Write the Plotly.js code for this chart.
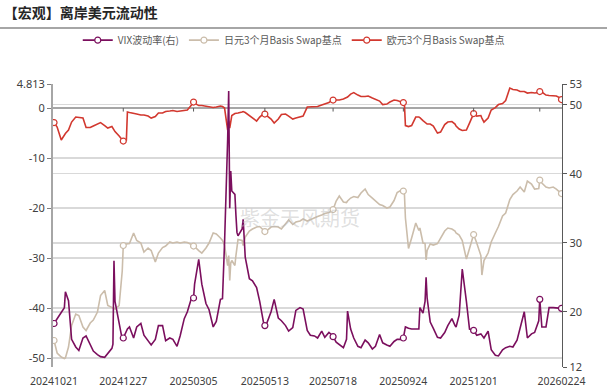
<!DOCTYPE html>
<html><head><meta charset="utf-8">
<script src="https://cdn.plot.ly/plotly-3.0.1.min.js"></script>
<style>html,body{margin:0;padding:0;background:#fff;} #chart{width:607px;height:387px;}</style>
</head><body><div id="chart"></div>
<script>
const dates = [
'2024-10-21','2024-10-24','2024-10-28','2024-10-31','2024-11-01','2024-11-04','2024-11-07','2024-11-11','2024-11-14','2024-11-18',
'2024-11-21','2024-11-25','2024-11-28','2024-12-02','2024-12-05','2024-12-09','2024-12-12','2024-12-16','2024-12-17','2024-12-18',
'2024-12-19','2024-12-23','2024-12-26','2024-12-27','2024-12-30','2024-12-31','2025-01-02','2025-01-06','2025-01-09','2025-01-13',
'2025-01-16','2025-01-20','2025-01-23','2025-01-27','2025-01-30','2025-02-03','2025-02-06','2025-02-10','2025-02-13','2025-02-17',
'2025-02-20','2025-02-24','2025-02-27','2025-03-03','2025-03-05','2025-03-06','2025-03-10','2025-03-13','2025-03-17','2025-03-20',
'2025-03-24','2025-03-27','2025-03-31','2025-04-02','2025-04-03','2025-04-04','2025-04-07','2025-04-08','2025-04-09','2025-04-10',
'2025-04-11','2025-04-14','2025-04-15','2025-04-16','2025-04-17','2025-04-21','2025-04-22','2025-04-24','2025-04-28','2025-05-01',
'2025-05-05','2025-05-08','2025-05-12','2025-05-13','2025-05-15','2025-05-19','2025-05-22','2025-05-26','2025-05-29','2025-06-02',
'2025-06-05','2025-06-09','2025-06-12','2025-06-16','2025-06-19','2025-06-23','2025-06-26','2025-06-30','2025-07-03','2025-07-07',
'2025-07-10','2025-07-14','2025-07-17','2025-07-18','2025-07-21','2025-07-24','2025-07-28','2025-07-31','2025-08-01','2025-08-04',
'2025-08-07','2025-08-11','2025-08-14','2025-08-18','2025-08-21','2025-08-25','2025-08-28','2025-09-01','2025-09-04','2025-09-08',
'2025-09-11','2025-09-15','2025-09-18','2025-09-22','2025-09-24','2025-09-25','2025-09-26','2025-09-29','2025-10-02','2025-10-06',
'2025-10-09','2025-10-10','2025-10-13','2025-10-15','2025-10-16','2025-10-17','2025-10-20','2025-10-23','2025-10-27','2025-10-30',
'2025-11-03','2025-11-06','2025-11-10','2025-11-13','2025-11-14','2025-11-17','2025-11-20','2025-11-24','2025-11-27','2025-12-01',
'2025-12-04','2025-12-08','2025-12-09','2025-12-11','2025-12-15','2025-12-18','2025-12-22','2025-12-25','2025-12-29','2026-01-01',
'2026-01-05','2026-01-08','2026-01-12','2026-01-15','2026-01-19','2026-01-22','2026-01-26','2026-01-29','2026-02-02','2026-02-03',
'2026-02-05','2026-02-09','2026-02-12','2026-02-16','2026-02-19','2026-02-23','2026-02-24'];

const vix = [
18.3,19.0,19.8,20.6,22.9,21.6,16.0,14.9,14.4,16.2,
16.5,15.2,14.3,13.8,13.5,13.4,13.9,14.7,15.3,27.4,
21.5,18.5,16.0,16.2,17.3,17.5,17.8,16.2,17.8,18.3,
16.6,15.7,15.2,16.0,18.0,18.0,15.8,16.2,16.0,15.0,
16.5,19.0,20.0,22.0,22.0,24.0,27.6,24.0,21.2,20.3,
17.8,18.6,21.8,21.9,25.0,30.0,45.0,52.0,35.0,40.4,
37.5,37.0,34.0,31.5,31.0,32.0,33.4,27.9,24.8,24.5,
23.5,21.5,18.2,18.0,18.4,20.0,21.8,19.1,18.7,18.0,
17.2,17.7,20.2,20.6,20.4,17.3,16.6,16.5,16.2,17.2,
16.3,17.0,16.6,16.4,15.6,15.2,14.8,16.0,20.1,17.5,
16.2,15.0,14.8,15.9,15.5,14.6,15.0,16.7,15.5,15.2,
15.0,15.7,16.0,16.0,16.2,17.0,17.8,17.6,17.5,17.5,
17.5,20.6,19.8,21.5,25.0,22.0,18.5,17.6,16.3,16.2,
17.0,18.0,19.0,18.0,17.8,19.5,26.2,21.5,17.5,17.3,
16.6,16.8,16.6,16.2,17.2,14.5,13.7,13.6,14.5,14.8,
15.0,14.9,15.9,17.5,20.0,16.2,16.8,17.0,18.7,21.8,
17.8,17.8,20.6,20.6,20.6,20.5,20.5];

const jpyBasis = [
-46.5,-49.0,-49.8,-50.1,-50.0,-47.8,-43.5,-41.2,-41.5,-43.8,
-44.5,-43.0,-42.4,-40.8,-37.5,-36.5,-39.5,-39.8,-40.0,-40.1,
-40.2,-39.5,-32.6,-27.5,-27.2,-27.2,-27.1,-25.0,-26.5,-27.0,
-28.8,-28.0,-28.5,-30.8,-29.0,-27.9,-27.6,-26.8,-27.0,-26.8,
-27.0,-26.8,-26.9,-27.3,-27.6,-27.7,-28.5,-29.0,-28.0,-27.0,
-25.0,-25.2,-26.0,-26.5,-27.0,-27.5,-31.5,-29.5,-34.5,-31.0,
-30.5,-31.5,-29.5,-27.5,-26.3,-26.5,-27.5,-25.8,-24.6,-24.2,
-23.8,-23.7,-24.5,-24.7,-24.5,-23.8,-23.7,-23.8,-24.2,-23.2,
-22.4,-23.3,-22.8,-22.6,-22.2,-22.6,-22.3,-22.0,-21.7,-21.4,
-21.1,-20.9,-20.6,-20.3,-18.6,-17.6,-18.8,-18.9,-18.6,-18.0,
-17.7,-17.9,-17.0,-16.2,-17.3,-18.0,-18.5,-19.3,-19.5,-20.0,
-19.8,-18.5,-16.9,-16.4,-16.6,-17.0,-22.0,-28.1,-26.0,-23.0,
-24.5,-24.0,-27.0,-27.1,-30.4,-28.5,-27.2,-27.4,-27.1,-26.0,
-24.6,-24.0,-24.2,-24.6,-25.0,-25.4,-26.5,-30.2,-28.0,-25.3,
-27.0,-29.5,-33.4,-30.5,-29.0,-26.8,-25.0,-23.7,-21.6,-21.0,
-18.3,-17.3,-16.6,-15.8,-16.8,-14.6,-15.2,-16.2,-16.1,-14.4,
-15.0,-15.8,-16.0,-15.8,-16.2,-16.9,-17.1];

const eurBasis = [
-2.9,-3.8,-6.4,-5.3,-5.1,-4.4,-2.8,-1.8,-1.9,-2.0,
-3.9,-3.9,-3.6,-3.1,-2.9,-3.5,-4.0,-3.7,-4.0,-4.4,
-4.7,-5.6,-6.3,-6.6,-6.4,-0.8,-0.9,-1.0,-1.2,-1.4,
-1.4,-1.6,-2.0,-1.7,-1.0,-1.0,-0.7,-0.6,-0.5,-0.7,
-0.6,-0.5,-0.4,0.6,1.2,1.0,0.5,0.5,0.3,0.2,
0.1,0.2,0.4,0.3,0.2,0.0,-4.4,-2.5,-4.0,-3.0,
-1.5,-1.1,-1.1,-1.0,-1.0,-0.8,-0.7,-0.9,-1.5,-2.0,
-2.6,-1.8,-1.1,-1.2,-1.5,-2.2,-3.0,-2.2,-1.3,-1.2,
-1.6,-2.2,-2.0,-1.7,-1.6,0.2,0.2,0.2,0.3,0.6,
0.8,1.1,1.6,1.6,1.5,1.6,1.8,2.1,2.2,2.8,
3.1,2.6,2.3,2.3,2.4,2.0,1.8,1.4,0.7,0.8,
1.2,1.6,1.5,1.2,1.1,1.0,-3.5,-3.7,-3.5,-1.8,
-1.8,-1.9,-2.5,-2.8,-3.0,-3.2,-3.2,-3.6,-5.0,-4.8,
-3.3,-2.8,-2.7,-3.2,-3.6,-4.2,-4.5,-4.4,-3.0,-1.1,
-1.6,-1.5,-2.0,-2.8,-2.0,-0.4,0.1,0.7,0.9,1.5,
4.0,3.7,3.6,3.3,3.3,3.0,3.1,3.0,3.1,3.3,
3.2,2.6,2.5,2.5,2.4,2.0,1.7];

const tickDates = ['2024-10-21','2024-12-27','2025-03-05','2025-05-13','2025-07-18','2025-09-24','2025-12-01','2026-02-24'];
const markerDates = ['2024-10-21','2024-12-27','2025-03-05','2025-05-13','2025-07-18','2025-09-24','2025-12-01','2026-02-03','2026-02-24'];
const leftTicks = [4.813, 0, -10, -20, -30, -40, -50];
const rightTicks = [12, 20, 30, 40, 50, 53];
const seriesNames = ['VIX波动率(右)', '日元3个月Basis Swap基点', '欧元3个月Basis Swap基点'];
const chartTitle = '【宏观】离岸美元流动性';
const watermark = '紫金天风期货';

const colVix = '#7b0f5e', colJpy = '#cbbdab', colEur = '#d2382f';

function markerStyle(color){
  const on = dates.map(d => markerDates.includes(d));
  return {symbol:'circle', size:6,
    color: on.map(v => v ? '#ffffff' : 'rgba(0,0,0,0)'),
    line:{color: on.map(v => v ? color : 'rgba(0,0,0,0)'), width:1.2}};
}

const traces = [
  {name: seriesNames[0], x: dates, y: vix, yaxis:'y2', mode:'lines+markers',
   line:{color:colVix, width:1.6}, marker: markerStyle(colVix)},
  {name: seriesNames[1], x: dates, y: jpyBasis, yaxis:'y', mode:'lines+markers',
   line:{color:colJpy, width:1.6}, marker: markerStyle(colJpy)},
  {name: seriesNames[2], x: dates, y: eurBasis, yaxis:'y', mode:'lines+markers',
   line:{color:colEur, width:1.6}, marker: markerStyle(colEur)}
];

const shapes = [
  {type:'line', xref:'paper', yref:'paper', x0:-0.11, x1:1.1, y0:1.198, y1:1.198,
   line:{color:'#a6a6a6', width:2}}
].concat(markerDates.slice(1, -1).map(d => ({
  type:'line', xref:'x', yref:'y', x0:d, x1:d, y0:0, y1:-0.7,
  line:{color:'#595959', width:1}})));

const layout = {
  width:607, height:387,
  margin:{l:53, r:45, t:84, b:20, pad:0},
  paper_bgcolor:'#ffffff', plot_bgcolor:'#ffffff',
  font:{family:'"Noto Sans", "Noto Sans CJK SC", sans-serif', size:11, color:'#404040'},
  title:{text:chartTitle, x:0.006, xanchor:'left', xref:'container', y:0.967, yref:'container', yanchor:'middle',
         font:{family:'"Noto Sans CJK SC", sans-serif', size:14, color:'#262626', weight:'bold'}},
  showlegend:true,
  legend:{orientation:'h', x:0.473, xanchor:'center', y:1.155, yanchor:'middle',
          font:{size:10, color:'#595959', family:'"Noto Sans CJK SC", sans-serif'},
          itemwidth:30, bgcolor:'rgba(0,0,0,0)'},
  xaxis:{type:'date', range:['2024-10-20','2026-02-24 12:00'], tickmode:'array', tickvals:tickDates,
         ticktext: tickDates.map(d => d.replace(/-/g,'')), showgrid:false, zeroline:false, showline:false,
         ticks:'', ticklabelstandoff:6, tickfont:{size:10.5, color:'#404040'}, fixedrange:true},
  yaxis:{range:[-51.8, 4.813], tickmode:'array', tickvals:leftTicks, ticktext:leftTicks.map(String),
         showgrid:true, gridcolor:'#d9d9d9', gridwidth:1.5, zeroline:true, zerolinecolor:'#a6a6a6', zerolinewidth:1.5,
         showline:true, linecolor:'#a6a6a6', linewidth:2, ticks:'outside', ticklen:4, tickcolor:'#7f7f7f',
         tickfont:{size:11, color:'#404040'}},
  yaxis2:{overlaying:'y', side:'right', range:[12, 53], tickmode:'array', tickvals:rightTicks,
          showgrid:true, gridcolor:'#d9d9d9', gridwidth:1.5, zeroline:false,
          showline:true, linecolor:'#595959', linewidth:1.2, ticks:'outside', ticklen:4, tickcolor:'#595959',
          tickfont:{size:11, color:'#404040'}},
  shapes: shapes,
  annotations:[{text:watermark, xref:'paper', yref:'paper', x:0.485, y:0.527, showarrow:false,
                font:{size:20, color:'rgba(185,185,185,0.45)', family:'"Noto Sans CJK SC", sans-serif'}}]
};

Plotly.newPlot('chart', traces, layout, {staticPlot:true, displayModeBar:false});
</script>
</body></html>
